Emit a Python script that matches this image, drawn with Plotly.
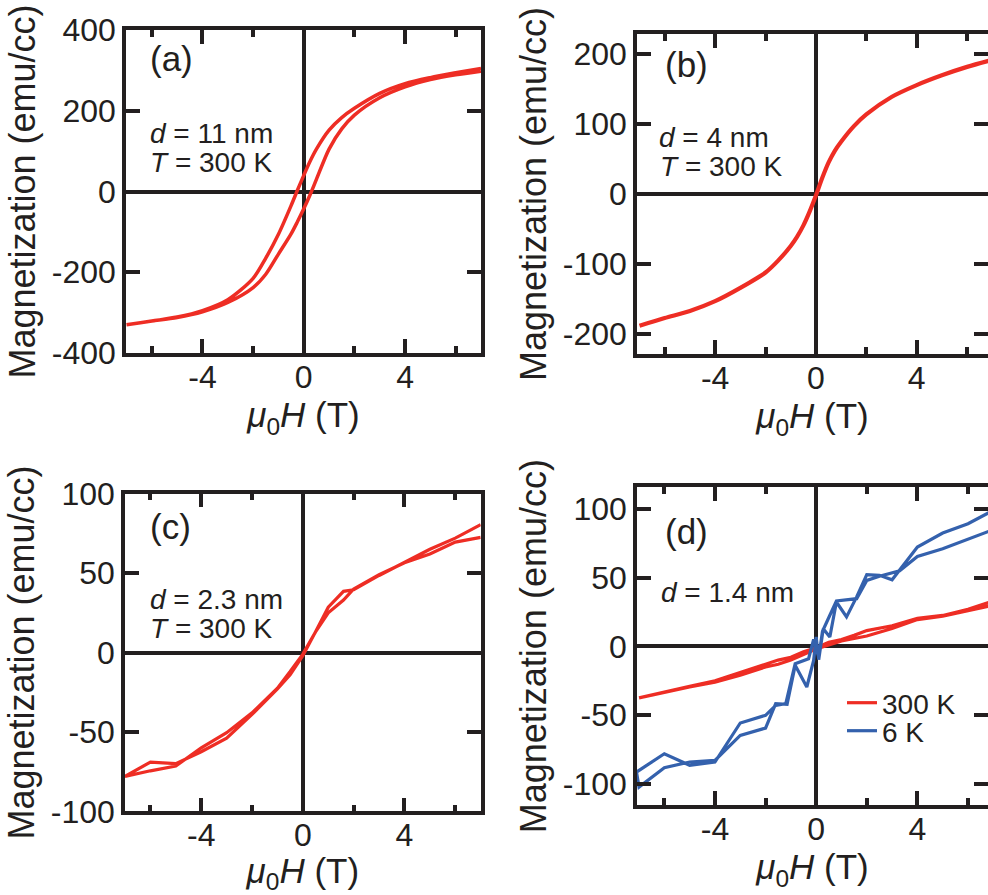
import plotly.graph_objects as go

FONT = "Liberation Sans, Arial, Helvetica, sans-serif"
INK = "#231F20"
RED = "#EE2D24"
BLUE = "#3461AD"

# ---------------- data ----------------
# (a) d = 11 nm, T = 300 K : loop, field swept 7 -> -7 -> 7 T
H_a_down = [7, 6, 5, 4, 3, 2, 1.5, 1, 0.5, 0.25, 0, -0.25, -0.5, -1, -1.5, -2, -3, -4, -5, -6, -7]
M_a_down = [305, 294, 282, 267, 243, 206, 183, 152, 105, 75, 40, 3, -35, -106, -165, -215, -268, -295, -311, -321, -330]
H_a_up = [-6, -5, -4, -3, -2, -1.5, -1, -0.5, -0.25, 0, 0.25, 0.5, 1, 1.5, 2, 3, 4, 5, 6, 7]
M_a_up = [-321, -312, -298, -275, -238, -205, -155, -105, -75, -43, -8, 30, 105, 155, 189, 232, 259, 277, 289, 298]

# (b) d = 4 nm, T = 300 K
H_b = [-7, -6, -5, -4, -3, -2, -1.5, -1, -0.75, -0.5, -0.25, 0, 0.25, 0.5, 0.75, 1, 1.5, 2, 3, 4, 5, 6, 7]
M_b = [-188, -177, -167, -153, -134, -112, -95, -74, -61, -45, -25, -2, 23, 45, 62, 75, 97, 114, 139, 156, 170, 182, 192]

# (c) d = 2.3 nm, T = 300 K
H_c_down = [7, 6, 5, 4, 3, 2, 1.6, 1, 0.5, 0, -0.5, -1, -2, -3, -4, -5, -6, -7]
M_c_down = [72.5, 69.5, 62, 56.5, 49, 40, 33, 25, 13, -1, -12, -22.5, -38, -50.5, -60, -71.5, -74.5, -78]
H_c_up = [-6, -5, -4, -3, -2, -1, -0.5, 0, 0.5, 1, 1.6, 2, 3, 4, 5, 6, 7]
M_c_up = [-69, -70, -62.5, -54, -39, -23, -14, -2, 13, 28.5, 38.5, 39.5, 48.5, 57, 65, 72, 80.5]

# (d) d = 1.4 nm, T = 300 K
H_d300_down = [7, 6, 5, 4, 3, 2, 1.5, 1, 0.5, 0, -0.5, -1, -1.5, -2, -3, -4, -5, -6, -7]
M_d300_down = [33, 27, 22.5, 20.5, 15, 11.5, 8, 5, 3, -1, -4, -8, -10, -13, -19, -25, -29, -33, -37.5]
H_d300_up = [-6, -5, -4, -3, -2, -1.5, -1, -0.5, 0, 0.5, 1, 2, 3, 4, 5, 6, 7]
M_d300_up = [-33, -29.5, -26, -21, -15, -13, -10, -6, -2, 1, 4, 7.5, 13, 19.5, 22, 26, 30]

# (d) d = 1.4 nm, T = 6 K
H_d6_down = [7, 6, 5, 4, 3.3, 2.5, 2, 1.6, 1.2, 0.8, 0.45, 0.25, 0.1, -0.1, -0.3, -0.83, -1.2, -1.6, -2, -3, -4, -5, -6, -7.1]
M_d6_down = [85, 78, 71, 65.5, 55, 51, 48, 34.7, 34, 33, 19, 11, -8, 5, -9, -12.6, -41.7, -43, -50.2, -55.8, -84.2, -86.6, -78.2, -91.5]
H_d6_up = [-7.0, -6, -5, -4, -3, -2, -1.6, -1.15, -0.83, -0.37, -0.1, 0, 0.1, 0.28, 0.54, 0.8, 1.2, 1.6, 2.0, 2.5, 3.0, 4.0, 5.0, 6.0, 7]
M_d6_up = [-102.4, -88.3, -84.2, -83, -64.8, -59.5, -41.7, -42.2, -13.8, -29.6, -10.2, 6.8, -9.7, 12.8, 6.8, 32.3, 21.4, 36, 52.2, 51.7, 48.5, 72.3, 82.5, 89.3, 99]

# tick labels
x_tickvals = [-4, 0, 4]
x_ticktext = ["-4", "0", "4"]
x_minorvals = [-6, -2, 2, 6]
ya_vals = [-400, -200, 0, 200, 400]
ya_text = ["-400", "-200", "0", "200", "400"]
yb_vals = [-200, -100, 0, 100, 200]
yb_text = ["-200", "-100", "0", "100", "200"]
yc_vals = [-100, -50, 0, 50, 100]
yc_text = ["-100", "-50", "0", "50", "100"]
yd_vals = [-100, -50, 0, 50, 100]
yd_text = ["-100", "-50", "0", "50", "100"]

panel_labels = ["(a)", "(b)", "(c)", "(d)"]
legend_names = ["300 K", "6 K"]

X_TITLE = "<i>μ</i><sub>0</sub><i>H</i> (T)"
Y_TITLE = "Magnetization (emu/cc)"

fig = go.Figure()

def add_line(x, y, xa, ya, color, width, shape="linear", name=None, legend=None):
    fig.add_trace(go.Scatter(
        x=x, y=y, xaxis=xa, yaxis=ya, mode="lines",
        line=dict(color=color, width=width, shape=shape, smoothing=0.8 if shape == "spline" else None),
        name=name, showlegend=name is not None, legend=legend,
        hoverinfo="skip"))

add_line(H_a_down + H_a_up, M_a_down + M_a_up, "x", "y", RED, 3.5, "spline")
add_line(H_b, M_b, "x2", "y2", RED, 4.2, "spline")
add_line(H_c_down + H_c_up, M_c_down + M_c_up, "x3", "y3", RED, 3.2)
add_line(H_d300_down + H_d300_up, M_d300_down + M_d300_up, "x4", "y4", RED, 3.2,
         name=legend_names[0], legend="legend")
add_line(H_d6_down + H_d6_up, M_d6_down + M_d6_up, "x4", "y4", BLUE, 3.2,
         name=legend_names[1], legend="legend2")

W, Hh = 988, 895
def px(v):
    return v / W
def py(v):
    return 1 - v / Hh

common = dict(
    showline=True, linewidth=3.5, linecolor=INK, mirror="ticks",
    ticks="inside", ticklen=14, tickwidth=3.5, tickcolor=INK,
    showgrid=False, zeroline=True, zerolinewidth=3.5, zerolinecolor=INK,
    tickfont=dict(family=FONT, size=32, color=INK),
    tickmode="array", automargin=False,
)

def xaxis(domain, rng, anchor):
    return dict(domain=domain, range=rng, anchor=anchor,
                tickvals=x_tickvals, ticktext=x_ticktext, ticklabelstandoff=-7,
                minor=dict(tickvals=x_minorvals, ticks="inside", ticklen=7,
                           tickwidth=3.5, tickcolor=INK),
                title=dict(text=X_TITLE, font=dict(family=FONT, size=35, color=INK), standoff=8),
                **common)

def yaxis(domain, rng, anchor, vals, text):
    return dict(domain=domain, range=rng, anchor=anchor,
                tickvals=vals, ticktext=text,
                title=dict(text=Y_TITLE, font=dict(family=FONT, size=36, color=INK), standoff=6),
                **common)

fig.update_layout(
    width=W, height=Hh, margin=dict(l=0, r=0, t=0, b=0),
    paper_bgcolor="white", plot_bgcolor="white",
    font=dict(family=FONT, color=INK),
    xaxis=xaxis([px(126), px(481)], [-7.02, 7.0], "y"),
    yaxis=yaxis([py(353), py(30)], [-400, 400], "x", ya_vals, ya_text),
    xaxis2=xaxis([px(637), 1.0], [-7.10, 6.83], "y2"),
    yaxis2=yaxis([py(354), py(34)], [-228.5, 229], "x2", yb_vals, yb_text),
    xaxis3=xaxis([px(125), px(480.7)], [-7.0, 7.0], "y3"),
    yaxis3=yaxis([py(811.3), py(493.7)], [-100, 100], "x3", yc_vals, yc_text),
    xaxis4=xaxis([px(637), 1.0], [-7.08, 6.79], "y4"),
    yaxis4=yaxis([py(805), py(487.3)], [-115.5, 115.8], "x4", yd_vals, yd_text),
    legend=dict(x=px(842), y=py(703), xanchor="left", yanchor="middle",
                font=dict(family=FONT, size=28, color=INK), bgcolor="rgba(0,0,0,0)",
                borderwidth=0, itemwidth=30),
    legend2=dict(x=px(842), y=py(731), xanchor="left", yanchor="middle",
                 font=dict(family=FONT, size=28, color=INK), bgcolor="rgba(0,0,0,0)",
                 borderwidth=0, itemwidth=30),
)

def note(text, x, y, size):
    fig.add_annotation(text=text, x=px(x), y=py(y), xref="paper", yref="paper",
                       xanchor="left", yanchor="middle", showarrow=False,
                       font=dict(family=FONT, size=size, color=INK))

note(panel_labels[0], 148, 58, 35)
note("<i>d</i> = 11 nm", 148, 134, 28)
note("<i>T</i> = 300 K", 148, 163, 28)
note(panel_labels[1], 663, 65, 35)
note("<i>d</i> = 4 nm", 657, 138, 28)
note("<i>T</i> = 300 K", 658, 166, 28)
note(panel_labels[2], 148, 526, 35)
note("<i>d</i> = 2.3 nm", 148, 599.5, 28)
note("<i>T</i> = 300 K", 148, 628, 28)
note(panel_labels[3], 663, 531.7, 35)
note("<i>d</i> = 1.4 nm", 659, 592.5, 28)

fig.write_html("out.html")
